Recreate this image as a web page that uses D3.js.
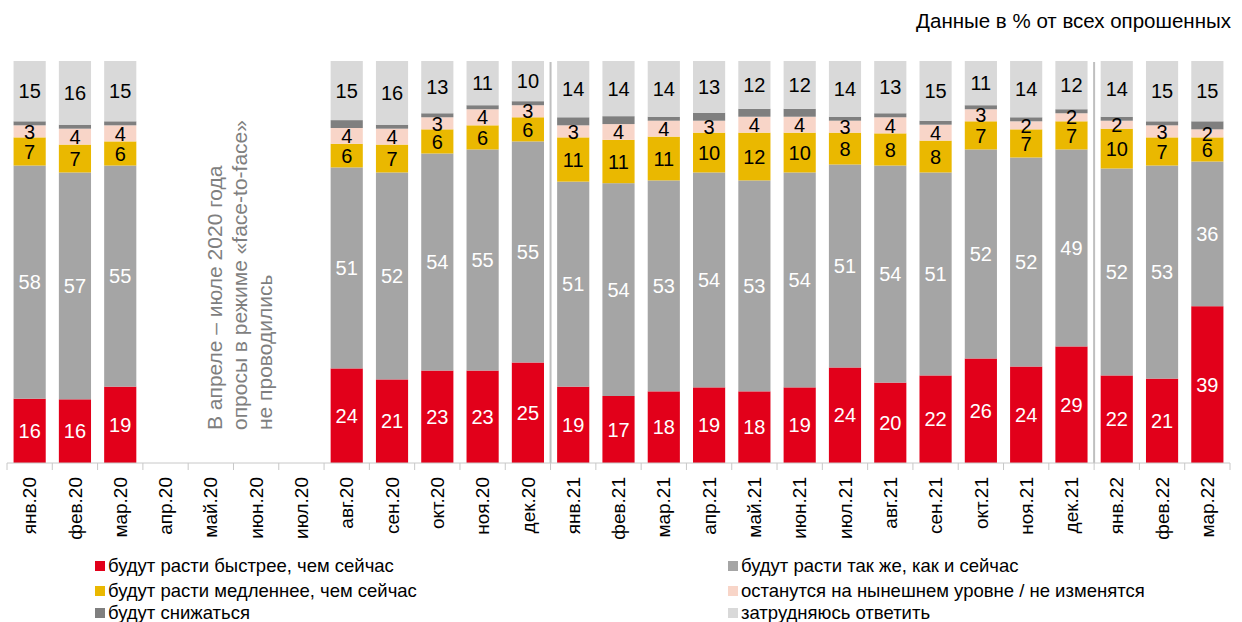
<!DOCTYPE html>
<html><head><meta charset="utf-8">
<script src="https://cdn.jsdelivr.net/npm/d3@7"></script>
<style>
body{margin:0;background:#fff;}
svg{display:block;font-family:"Liberation Sans",Arial,sans-serif;}
</style></head>
<body><svg id="c" width="1242" height="622"></svg>
<script>
const months = ["янв.20","фев.20","мар.20","апр.20","май.20","июн.20","июл.20","авг.20","сен.20","окт.20","ноя.20","дек.20","янв.21","фев.21","мар.21","апр.21","май.21","июн.21","июл.21","авг.21","сен.21","окт.21","ноя.21","дек.21","янв.22","фев.22","мар.22"];
const faster  = [16,16,19,null,null,null,null,24,21,23,23,25,19,17,18,19,18,19,24,20,22,26,24,29,22,21,39];
const same    = [58,57,55,null,null,null,null,51,52,54,55,55,51,54,53,54,53,54,51,54,51,52,52,49,52,53,36];
const slower  = [7,7,6,null,null,null,null,6,7,6,6,6,11,11,11,10,12,10,8,8,8,7,7,7,10,7,6];
const unchanged=[3,4,4,null,null,null,null,4,4,3,4,3,3,4,4,3,4,4,3,4,4,3,2,2,2,3,2];
const decrease= [1,1,1,null,null,null,null,2,1,1,1,1,2,2,1,2,2,2,1,1,1,1,1,1,1,1,2];
const hard    = [15,16,15,null,null,null,null,15,16,13,11,10,14,14,14,13,12,12,14,13,15,11,14,12,14,15,15];
const seriesNames = ["будут расти быстрее, чем сейчас","будут расти так же, как и сейчас","будут расти медленнее, чем сейчас","останутся на нынешнем уровне / не изменятся","будут снижаться","затрудняюсь ответить"];
const seriesColors = ["#E2001A","#A5A5A5","#EAB800","#F8D5C8","#7F7F7F","#D9D9D9"];
const labelColors = ["#fff","#fff","#000","#000",null,"#000"];
const keys = ["faster","same","slower","unchanged","decrease","hard"];
const title = "Данные в % от всех опрошенных";
const note = ["В апреле – июле 2020 года","опросы в режиме «face-to-face»","не проводились"];
const separatorsAfter = ["дек.20","дек.21"];

const arrs = [faster,same,slower,unchanged,decrease,hard];
const rows = months.map((m,i)=>{const o={month:m}; keys.forEach((k,j)=>o[k]=arrs[j][i]); return o;});
const present = rows.filter(r=>r.faster!==null);

const svg = d3.select("#c");
const x = d3.scaleBand().domain(months).range([7,1230]).paddingInner(0.29).paddingOuter(0.145);
const y = d3.scaleLinear().domain([0,1]).range([463,61]);

const stack = d3.stack().keys(keys).offset(d3.stackOffsetExpand);
const series = stack(present);

const g = svg.append("g");
series.forEach((s,si)=>{
  g.selectAll(null).data(s).enter().append("rect")
    .attr("x",d=>x(d.data.month)).attr("width",x.bandwidth())
    .attr("y",d=>y(d[1])).attr("height",d=>y(d[0])-y(d[1]))
    .attr("fill",seriesColors[si]);
});
series.forEach((s,si)=>{
  if(!labelColors[si]) return;
  g.selectAll(null).data(s).enter().append("text")
    .attr("x",d=>x(d.data.month)+x.bandwidth()/2)
    .attr("y",d=>(y(d[0])+y(d[1]))/2)
    .attr("dy","0.36em")
    .attr("text-anchor","middle")
    .attr("font-size",20)
    .attr("fill",labelColors[si])
    .text(d=>d.data[keys[si]]);
});

// separators
separatorsAfter.forEach(m=>{
  const xp = x(m)+x.bandwidth()+ (x.step()-x.bandwidth())/2;
  svg.append("line").attr("x1",xp).attr("x2",xp).attr("y1",62).attr("y2",463)
    .attr("stroke","#BFBFBF").attr("stroke-width",2);
});

// axis
const ax = svg.append("g").attr("transform","translate(0,463)");
ax.append("line").attr("x1",7).attr("x2",1230).attr("y1",0).attr("y2",0).attr("stroke","#C8C8C8").attr("stroke-width",1);
const edges = months.map(m=>x(m)-(x.step()-x.bandwidth())/2).concat([1230]);
ax.selectAll(null).data(edges).enter().append("line")
  .attr("x1",d=>d).attr("x2",d=>d).attr("y1",0).attr("y2",7).attr("stroke","#C8C8C8");
ax.selectAll(null).data(months).enter().append("text")
  .attr("transform",d=>`translate(${x(d)+x.bandwidth()/2},14) rotate(-90)`)
  .attr("text-anchor","end").attr("dy","0.35em").attr("font-size",19).attr("fill","#000")
  .text(d=>d);

// title
svg.append("text").attr("x",1231).attr("y",28).attr("text-anchor","end").attr("font-size",20.5).attr("fill","#000").text(title);

// note
note.forEach((t,i)=>{
  svg.append("text").attr("transform",`translate(${222+i*25},430) rotate(-90)`)
    .attr("font-size",21).attr("fill","#7F7F7F").text(t);
});

// legend
const legPos = [[95,566],[728,566],[95,591],[728,591],[95,613],[728,613]];
seriesNames.forEach((n,i)=>{
  const [lx,ly]=legPos[i];
  svg.append("rect").attr("x",lx).attr("y",ly-5).attr("width",10).attr("height",10).attr("fill",seriesColors[i]);
  svg.append("text").attr("x",lx+13).attr("y",ly).attr("dy","0.35em").attr("font-size",18.5).attr("fill","#000").text(n);
});
</script></body></html>
